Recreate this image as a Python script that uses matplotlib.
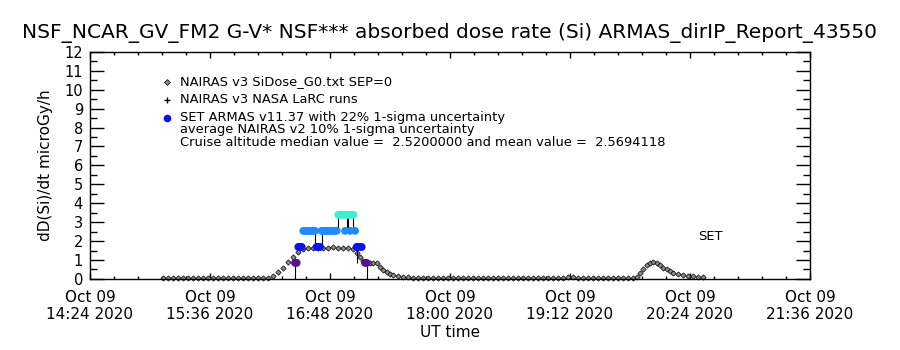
import matplotlib
matplotlib.use("Agg")
import matplotlib.pyplot as plt
from matplotlib.ticker import MultipleLocator, FuncFormatter

# NAIRAS v3 dose rate (minutes after 00:00 UT, microGy/h)
nairas_min = [908, 911, 914, 917, 920, 923, 926, 929, 932, 935, 938, 941, 944, 947,
              950, 953, 956, 959, 962, 965, 968, 971, 974, 977, 980, 983, 986, 989,
              992, 995, 998, 1001, 1004, 1007, 1010, 1013, 1016, 1019, 1022, 1024,
              1026, 1028, 1030, 1032, 1034, 1036, 1038, 1040, 1042, 1044, 1046, 1049,
              1052, 1055, 1058, 1061, 1064, 1067, 1070, 1073, 1076, 1079, 1082, 1085,
              1088, 1091, 1094, 1097, 1100, 1103, 1106, 1109, 1112, 1115, 1118, 1121,
              1124, 1127, 1130, 1133, 1136, 1139, 1142, 1145, 1148, 1151, 1154, 1157,
              1160, 1163, 1166, 1169, 1172, 1175, 1178, 1181, 1184, 1187, 1190, 1192,
              1194, 1196, 1198, 1200, 1202, 1204, 1206, 1208, 1210, 1212, 1214, 1217,
              1220, 1223, 1226, 1229, 1232]
nairas_val = [0.04, 0.05, 0.04, 0.05, 0.05, 0.04, 0.05, 0.05, 0.06, 0.05, 0.05, 0.06, 0.05, 0.05,
              0.06, 0.05, 0.05, 0.06, 0.05, 0.06, 0.05, 0.06, 0.15, 0.35, 0.6, 0.9, 1.18, 1.42,
              1.6, 1.64, 1.66, 1.66, 1.65, 1.66, 1.67, 1.66, 1.66, 1.65, 1.6, 1.35,
              1.15, 0.95, 0.88, 0.85, 0.85, 0.85, 0.65, 0.48, 0.35, 0.26, 0.2, 0.16,
              0.12, 0.08, 0.06, 0.05, 0.06, 0.05, 0.05, 0.06, 0.05, 0.06, 0.05, 0.05,
              0.06, 0.05, 0.06, 0.05, 0.05, 0.06, 0.05, 0.05, 0.06, 0.05, 0.06, 0.05,
              0.05, 0.06, 0.05, 0.06, 0.05, 0.05, 0.06, 0.05, 0.06, 0.08, 0.1, 0.07,
              0.06, 0.05, 0.06, 0.05, 0.06, 0.05, 0.05, 0.06, 0.05, 0.06, 0.05, 0.12,
              0.3, 0.5, 0.72, 0.85, 0.88, 0.85, 0.75, 0.6, 0.5, 0.4, 0.32, 0.24,
              0.2, 0.17, 0.15, 0.12, 0.08]

# SET ARMAS v11.37 measurements (minutes after 00:00 UT)
armas_min = [987, 988, 989, 990, 991, 992, 993, 994, 995, 996, 997, 998, 999, 1000,
             1001, 1002, 1003, 1004, 1005, 1006, 1007, 1008, 1009, 1010, 1011, 1012,
             1013, 1014, 1015, 1016, 1017, 1018, 1019, 1020, 1021, 1022, 1023, 1024,
             1025, 1026, 1027, 1029, 1030]
armas_val = [0.85, 0.85, 1.69, 1.69, 1.69, 2.54, 2.54, 2.54, 2.54, 2.54, 2.54, 2.54, 2.54, 1.69,
             1.69, 1.69, 2.54, 2.54, 2.54, 2.54, 2.54, 2.54, 2.54, 2.54, 2.54, 2.54,
             3.39, 3.39, 3.39, 3.39, 2.54, 3.39, 3.39, 2.54, 3.39, 3.39, 2.54, 1.69,
             1.69, 1.69, 1.69, 0.85, 0.85]
# lower uncertainty bar length as drawn (0 = not visible)
armas_low = [0.85, 0, 0, 0, 0, 0, 0, 0, 0, 0, 0, 0, 0.85, 0,
             0, 0, 0.85, 0, 0, 0, 0, 0, 0, 0, 0, 0,
             0.85, 0, 0, 0, 0, 0.85, 0.85, 0, 0, 0.85, 0, 0.85,
             0, 0, 0, 0, 0.85]

level_colors = {0.85: "#5a0f8c", 1.69: "#0a14e6", 2.54: "#1e8cff", 3.39: "#3cf0d2"}

title = "NSF_NCAR_GV_FM2 G-V* NSF*** absorbed dose rate (Si) ARMAS_dirIP_Report_43550"
legend_lines = ["NAIRAS v3 SiDose_G0.txt SEP=0",
                "NAIRAS v3 NASA LaRC runs",
                "SET ARMAS v11.37 with 22% 1-sigma uncertainty",
                "average NAIRAS v2 10% 1-sigma uncertainty",
                "Cruise altitude median value =  2.5200000 and mean value =  2.5694118"]

fig = plt.figure(figsize=(9, 3.5), dpi=100)
ax = fig.add_axes([0.1, 0.203, 0.8, 0.649])

nx = [m / 60 for m in nairas_min]
ax.plot(nx, nairas_val, linestyle="none", marker="D", ms=2.7, mfc="0.55", mec="black",
        mew=0.5, zorder=2, clip_on=False)

ax_x = [m / 60 for m in armas_min]
ax.vlines(ax_x, [v - e for v, e in zip(armas_val, armas_low)], armas_val,
          colors="black", lw=0.8, zorder=3)
ax.scatter(ax_x, armas_val, s=32, marker="o", c=[level_colors[v] for v in armas_val],
           edgecolors="none", zorder=4)

ax.set_xlim(14.4, 21.6)
ax.set_ylim(0, 12)
ax.xaxis.set_major_locator(MultipleLocator(1.2))
ax.xaxis.set_minor_locator(MultipleLocator(0.24))
ax.yaxis.set_major_locator(MultipleLocator(1))
ax.yaxis.set_minor_locator(MultipleLocator(0.5))


def fmt_time(x, pos):
    m = int(round(x * 60))
    return f"Oct 09\n{m // 60:02d}:{m % 60:02d} 2020"


ax.xaxis.set_major_formatter(FuncFormatter(fmt_time))
ax.tick_params(axis="both", which="both", direction="in", top=True, right=True, width=1)
ax.tick_params(axis="x", which="major", length=4, labelsize=11, pad=8)
ax.tick_params(axis="x", which="minor", length=2.5)
ax.tick_params(axis="y", which="major", length=10, labelsize=10.5, pad=5)
ax.tick_params(axis="y", which="minor", length=5)
for s in ax.spines.values():
    s.set_linewidth(1)

ax.set_xlabel("UT time", fontsize=11, labelpad=2)
ax.set_ylabel("dD(Si)/dt microGy/h", fontsize=11, labelpad=8)
fig.text(0.5, 0.905, title, ha="center", va="center", fontsize=14.5)

# legend block
ax.plot([0.107], [0.868], transform=ax.transAxes, marker="D", ms=3, mfc="0.55",
        mec="black", mew=0.5, clip_on=False)
ax.plot([0.107], [0.789], transform=ax.transAxes, marker="+", ms=5, color="black",
        mew=1, clip_on=False)
ax.plot([0.107], [0.709], transform=ax.transAxes, marker="o", ms=5.5, color="#0a14e6",
        mec="none", clip_on=False)
for txt, yy in zip(legend_lines, [0.868, 0.789, 0.709, 0.658, 0.600]):
    ax.text(0.125, yy, txt, transform=ax.transAxes, fontsize=9.4, va="center", ha="left")

ax.text(0.844, 0.185, "SET", transform=ax.transAxes, fontsize=9.4, va="center", ha="left")

fig.savefig("out.png", dpi=100)
